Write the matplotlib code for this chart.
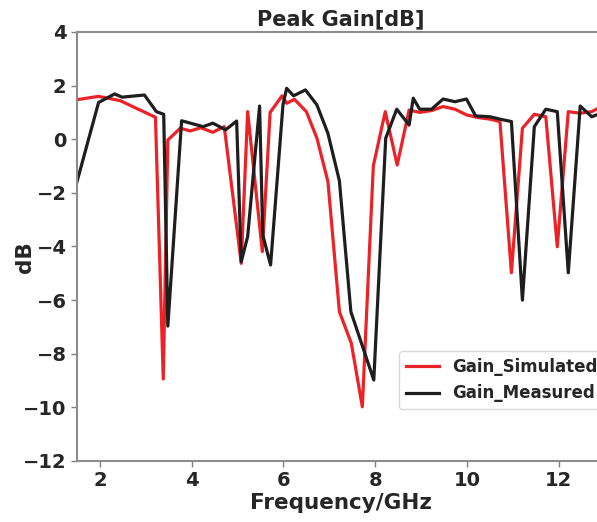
import matplotlib
matplotlib.use('Agg')
from matplotlib import pyplot as plt

# simulated gain (GHz, dB)
sim_freq = [1.48, 1.97, 2.44, 3.21, 3.38, 3.48, 3.75, 3.97, 4.2, 4.46, 4.71,
            5.08, 5.22, 5.54, 5.71, 5.97, 6.07, 6.24, 6.5, 6.73, 6.97, 7.22,
            7.48, 7.72, 7.96, 8.22, 8.48, 8.74, 8.97, 9.23, 9.48, 9.74, 9.99,
            10.24, 10.5, 10.72, 10.97, 11.21, 11.47, 11.72, 11.97, 12.21,
            12.47, 12.72, 12.97]
sim_gain = [1.47, 1.6, 1.44, 0.82, -8.94, -0.03, 0.41, 0.31, 0.43, 0.26, 0.47,
            -4.63, 1.03, -4.19, 1.0, 1.62, 1.34, 1.49, 1.03, 0.04, -1.58, -6.43,
            -7.61, -9.98, -0.99, 1.03, -0.96, 1.09, 1.0, 1.07, 1.22, 1.12, 0.91,
            0.81, 0.75, 0.66, -4.98, 0.41, 0.93, 0.84, -4.01, 1.03,
            0.97, 1.03, 1.25]

# measured gain (GHz, dB)
meas_freq = [1.47, 1.97, 2.32, 2.48, 2.97, 3.23, 3.39, 3.48, 3.78, 4.25, 4.46,
             4.74, 4.98, 5.08, 5.22, 5.48, 5.55, 5.72, 5.99, 6.07, 6.22, 6.48,
             6.73, 6.97, 7.22, 7.47, 7.97, 8.23, 8.47, 8.74, 8.83, 8.97, 9.23,
             9.48, 9.74, 9.99, 10.19, 10.5, 10.72, 10.97, 11.21, 11.47, 11.72,
             11.97, 12.21, 12.47, 12.72, 12.97]
meas_gain = [-1.77, 1.37, 1.69, 1.57, 1.65, 1.03, 0.93, -6.97, 0.69, 0.47, 0.6,
             0.35, 0.68, -4.57, -3.63, 1.24, -3.57, -4.69, 1.28, 1.9, 1.62, 1.84,
             1.28, 0.22, -1.55, -6.43, -8.98, 0.04, 1.12, 0.53, 1.53, 1.12, 1.12,
             1.5, 1.4, 1.5, 0.87, 0.84, 0.75, 0.66, -6.0, 0.47, 1.12,
             1.03, -4.98, 1.24, 0.84, 1.0]

text_color = '#262626'
plt.rcParams['font.family'] = 'DejaVu Sans'
plt.rcParams['font.weight'] = 'bold'
plt.rcParams['text.color'] = text_color
plt.rcParams['axes.labelcolor'] = text_color
plt.rcParams['xtick.color'] = '#808080'
plt.rcParams['ytick.color'] = '#808080'
plt.rcParams['xtick.labelcolor'] = text_color
plt.rcParams['ytick.labelcolor'] = text_color

fig = plt.figure(figsize=(5.97, 5.22), dpi=100)
ax = fig.add_axes([0.129, 0.1169, 0.8836, 0.8218])

ax.plot(sim_freq, sim_gain, color='#ec2227', linewidth=2.3, label='Gain_Simulated')
ax.plot(meas_freq, meas_gain, color='#1e1e1e', linewidth=2.3, label='Gain_Measured')

ax.set_xlim(1.5, 13)
ax.set_ylim(-12, 4)
ax.set_xticks([2, 4, 6, 8, 10, 12])
ax.set_yticks([-12, -10, -8, -6, -4, -2, 0, 2, 4])
ax.tick_params(labelsize=14, length=4, width=1)
for lbl in ax.get_xticklabels() + ax.get_yticklabels():
    lbl.set_fontweight('bold')

for s in ax.spines.values():
    s.set_color('#8c8c8c')
    s.set_linewidth(1.5)
ax.spines['right'].set_visible(False)

ax.set_title('Peak Gain[dB]', fontsize=15, fontweight='bold', pad=5)
ax.set_xlabel('Frequency/GHz', fontsize=15.5, fontweight='bold', labelpad=2)
ax.set_ylabel('dB', fontsize=15.5, fontweight='bold')
ax.yaxis.set_label_coords(-0.08, 0.475)

ax.legend(loc='lower right', bbox_to_anchor=(1.0, 0.121), borderaxespad=0.0,
          prop={'size': 12, 'weight': 'bold'}, frameon=True, edgecolor='#d0d0d0')

plt.savefig('out.png', dpi=100)
